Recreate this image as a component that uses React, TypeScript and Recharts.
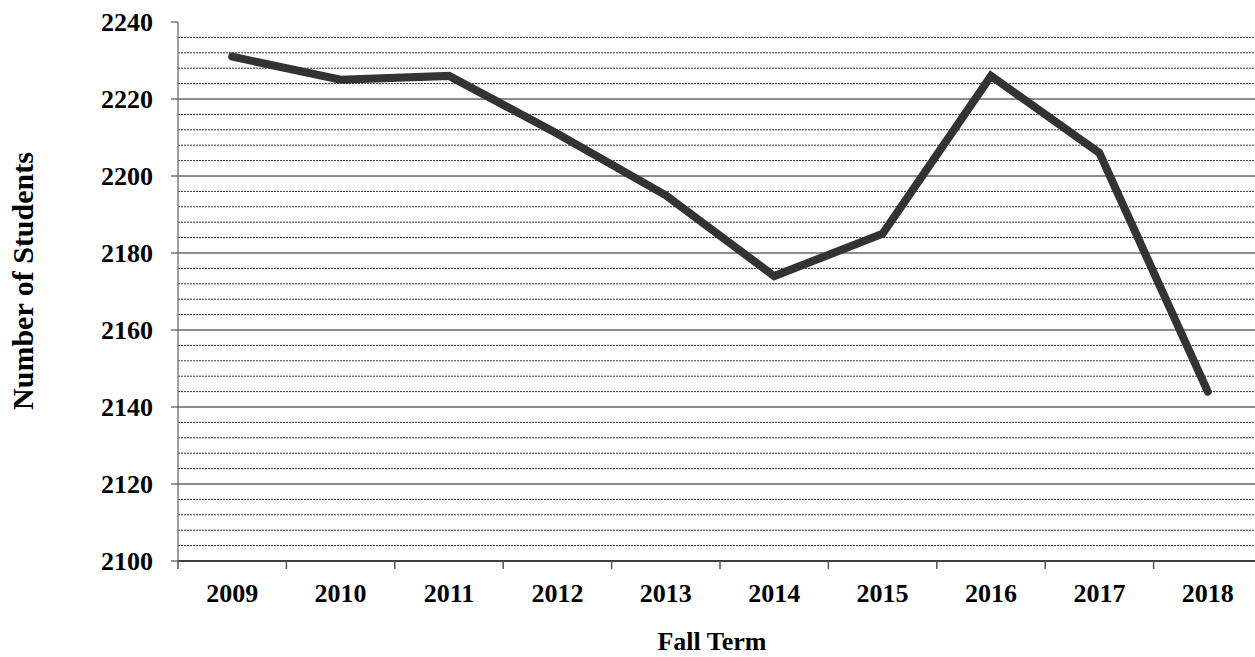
import React from "react";
import { LineChart, Line, XAxis, YAxis, ReferenceLine } from "recharts";

const YEARS = ["2009", "2010", "2011", "2012", "2013", "2014", "2015", "2016", "2017", "2018"];
const STUDENTS = [2231, 2225, 2226, 2211, 2195, 2174, 2185, 2226, 2206, 2144];
const Y_TICKS = [2100, 2120, 2140, 2160, 2180, 2200, 2220, 2240];
const MAJOR_GRID = [2120, 2140, 2160, 2180, 2200, 2220];
const MINOR_GRID = [
  2104, 2108, 2112, 2116, 2124, 2128, 2132, 2136, 2144, 2148, 2152, 2156,
  2164, 2168, 2172, 2176, 2184, 2188, 2192, 2196, 2204, 2208, 2212, 2216,
  2224, 2228, 2232, 2236,
];

const data = YEARS.map((year, i) => ({ year, students: STUDENTS[i] }));

const FONT = '"Liberation Serif", "Times New Roman", serif';
const PLOT_LEFT = 178;
const PLOT_RIGHT = 1262;
const BAND = (PLOT_RIGHT - PLOT_LEFT) / YEARS.length;

function YearTick(props: any) {
  const { x, y, payload } = props;
  const left = x - BAND / 2;
  return (
    <g>
      <line x1={left} x2={left} y1={y} y2={y + 8} stroke="#555" strokeWidth={1.5} />
      <text x={x} y={y + 41} textAnchor="middle" fontFamily={FONT} fontWeight="bold" fontSize={26} fill="#000">
        {payload.value}
      </text>
    </g>
  );
}

function XTitle() {
  return (
    <text x={712} y={650} textAnchor="middle" fontFamily={FONT} fontWeight="bold" fontSize={26} fill="#000">
      Fall Term
    </text>
  );
}

function YTitle() {
  return (
    <text x={33} y={281} transform="rotate(-90 33 281)" textAnchor="middle" fontFamily={FONT} fontWeight="bold" fontSize={30} fill="#000">
      Number of Students
    </text>
  );
}

export default function App() {
  return (
    <div style={{ position: "absolute", left: 0, top: 0, width: 1255, height: 657, overflow: "hidden", background: "#fff" }}>
      <LineChart width={1270} height={657} data={data} margin={{ top: 22, right: 8, bottom: 36, left: 78 }}>
        {MINOR_GRID.map((v) => (
          <ReferenceLine key={"m" + v} y={v} stroke="#333" strokeWidth={1} strokeDasharray="2 1" />
        ))}
        {MAJOR_GRID.map((v) => (
          <ReferenceLine key={"M" + v} y={v} stroke="#1a1a1a" strokeWidth={1} />
        ))}
        <XAxis
          dataKey="year"
          height={60}
          padding={{ left: BAND / 2, right: BAND / 2 }}
          axisLine={{ stroke: "#000", strokeWidth: 1.5 }}
          tickLine={false}
          tickSize={0}
          tickMargin={0}
          interval={0}
          tick={<YearTick />}
          label={<XTitle />}
        />
        <YAxis
          width={100}
          domain={[2100, 2240]}
          ticks={Y_TICKS}
          interval={0}
          allowDataOverflow
          axisLine={{ stroke: "#808080", strokeWidth: 1.5 }}
          tickLine={{ stroke: "#333", strokeWidth: 1 }}
          tickSize={7}
          tickMargin={18}
          tick={{ fontFamily: FONT, fontWeight: "bold", fontSize: 26, fill: "#000" }}
          label={<YTitle />}
        />
        <Line
          type="linear"
          dataKey="students"
          stroke="#333333"
          strokeWidth={8}
          strokeLinecap="round"
          strokeLinejoin="miter"
          dot={false}
          activeDot={false}
          isAnimationActive={false}
        />
      </LineChart>
    </div>
  );
}
